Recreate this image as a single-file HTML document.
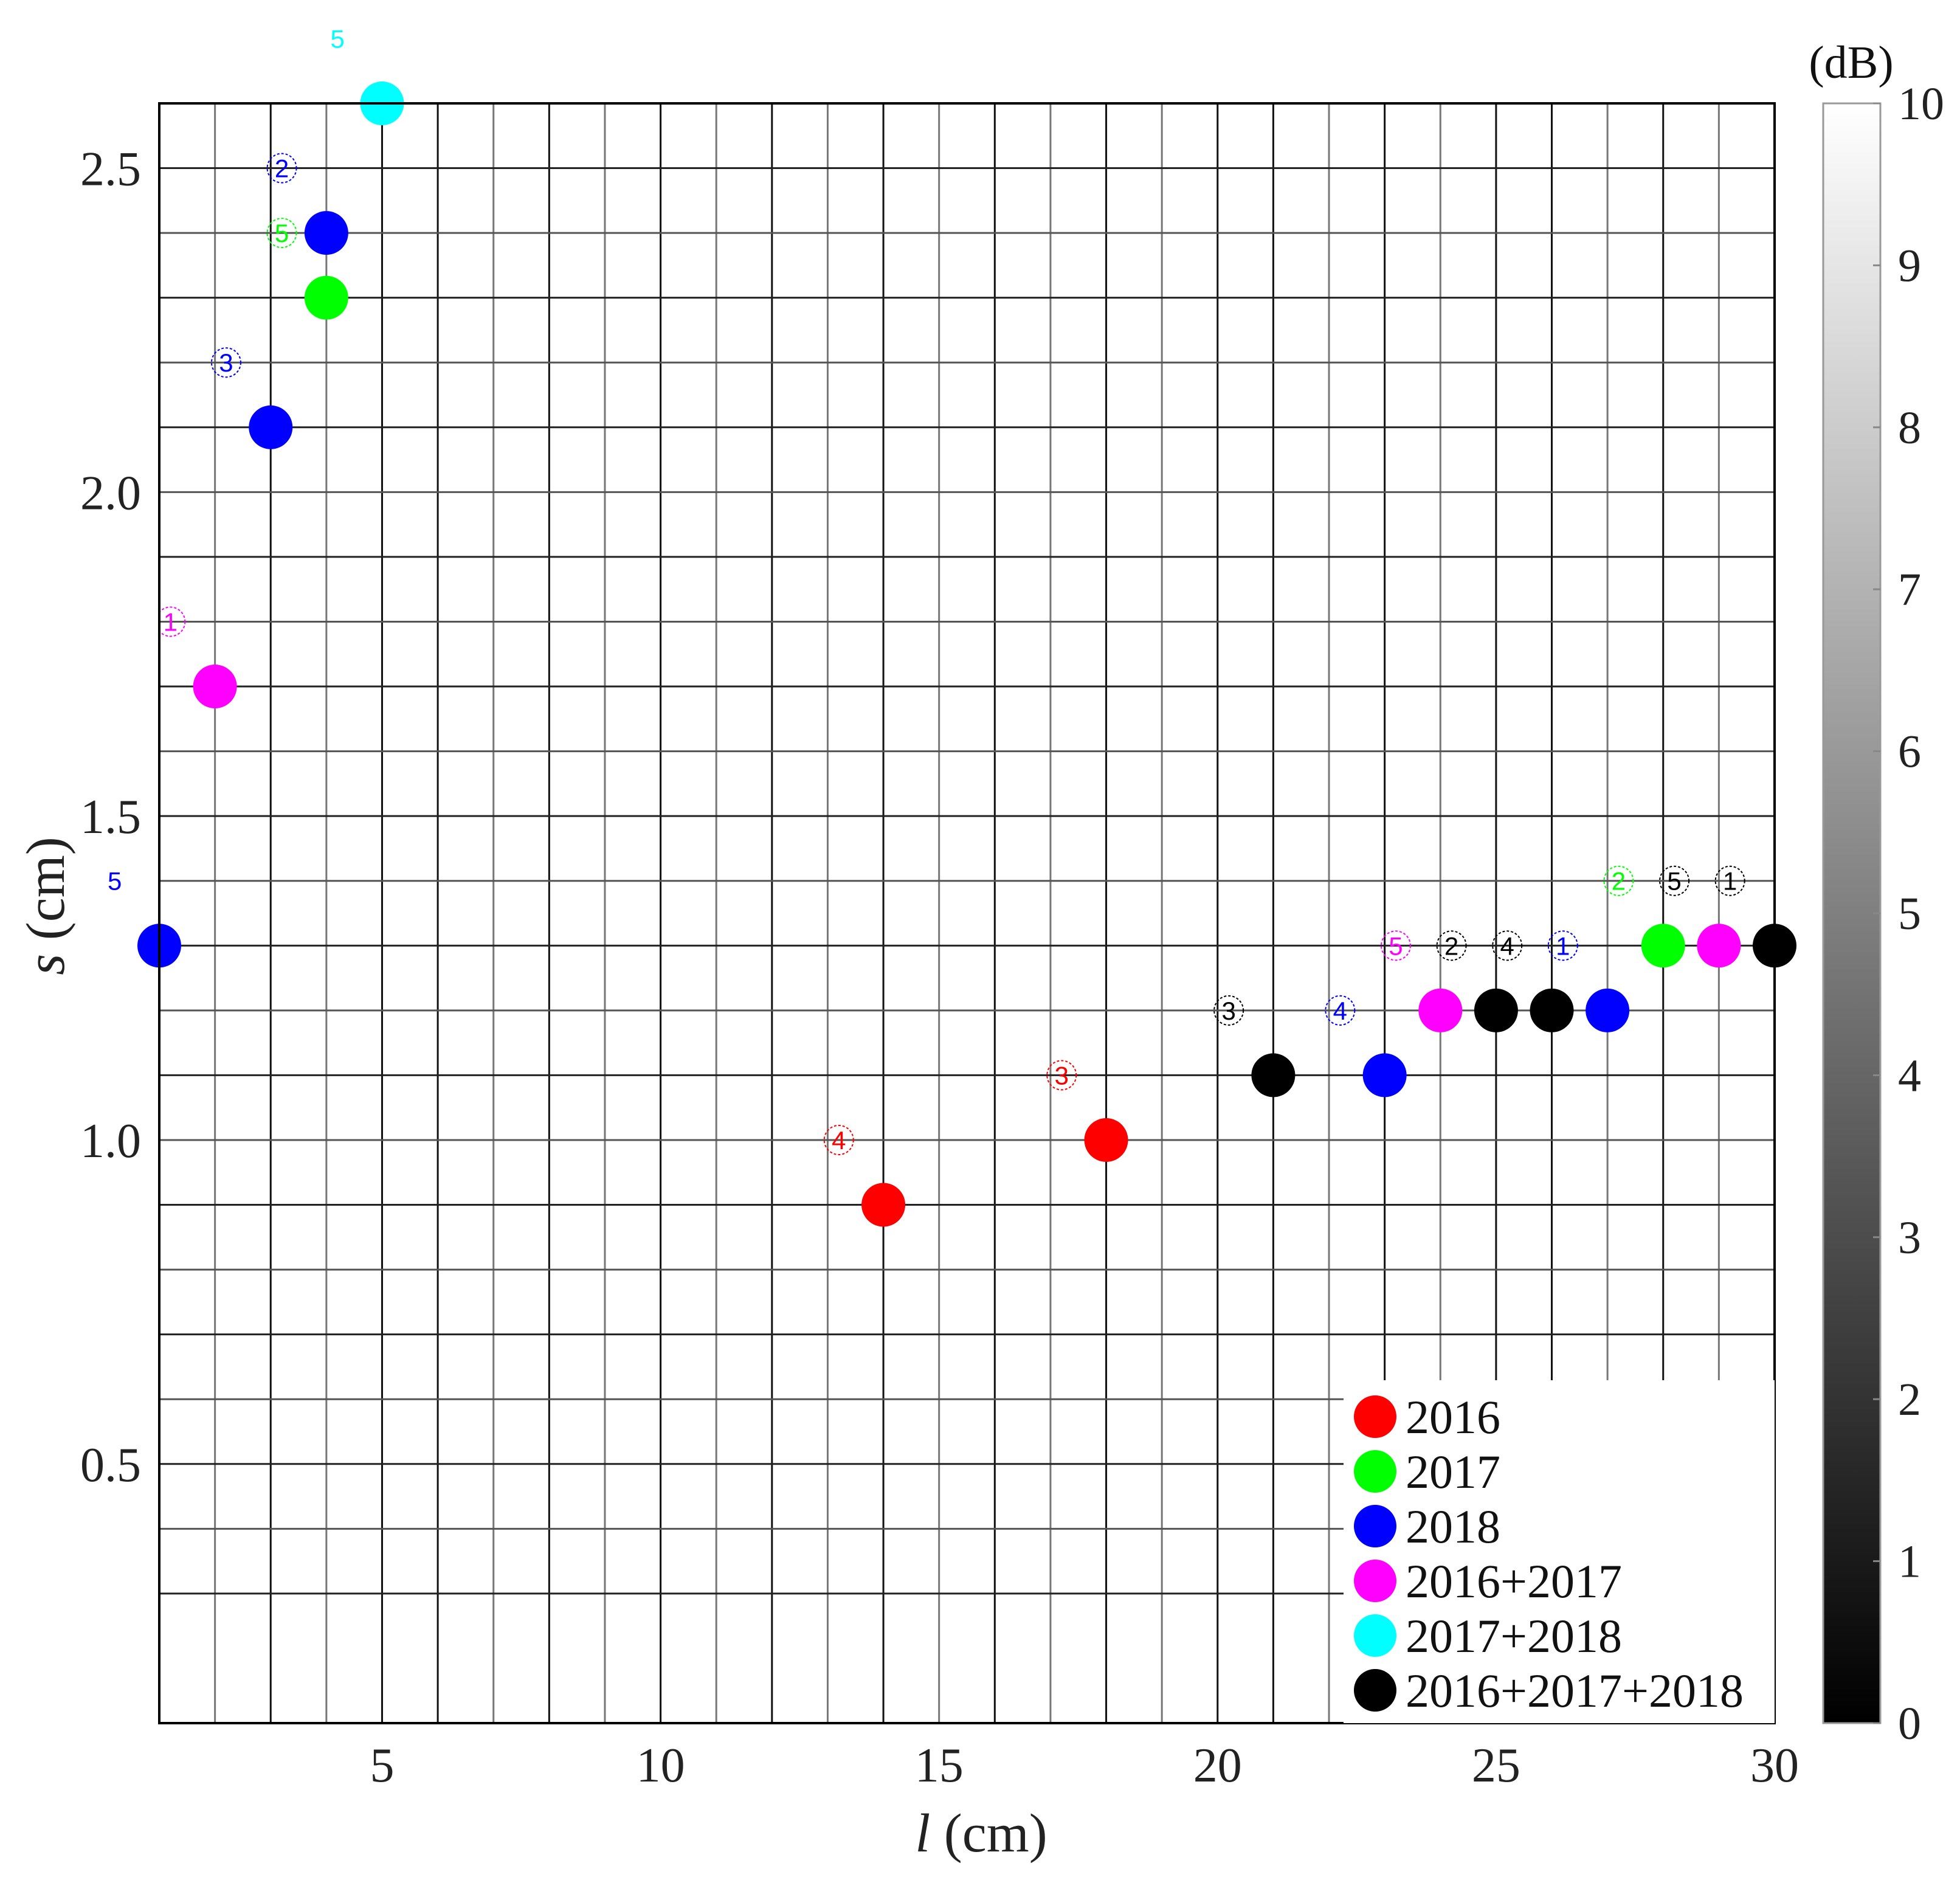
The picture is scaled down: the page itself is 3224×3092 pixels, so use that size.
<!DOCTYPE html>
<html><head><meta charset="utf-8"><style>
html,body{margin:0;padding:0;background:#fff}
svg{display:block}
text{font-family:"Liberation Serif",serif}
</style></head><body>
<svg id="chart" width="3224" height="3092" viewBox="0 0 3224 3092" xmlns="http://www.w3.org/2000/svg">
<defs>
<clipPath id="plotclip"><rect x="262" y="170" width="2657" height="2664"/></clipPath>
<linearGradient id="cbgrad" x1="0" y1="1" x2="0" y2="0"><stop offset="0" stop-color="#000"/><stop offset="1" stop-color="#fff"/></linearGradient>
</defs>
<g id="grid"></g>
<g id="labels"></g>
<g id="points"></g>
<g id="axes"></g>
<g id="legend"></g>
<g id="colorbar"></g>
</svg>
<script>
const seriesNames = ["2016","2017","2018","2016+2017","2017+2018","2016+2017+2018"];
const seriesColors = ["#ff0000","#00ff00","#0000ff","#ff00ff","#00ffff","#000000"];
const pointL = [14,18, 4,28, 1,3,4,23,27, 2,24,29, 5, 21,25,26,30];
const pointS = [0.9,1.0, 2.3,1.3, 1.3,2.1,2.4,1.1,1.2, 1.7,1.2,1.3, 2.6, 1.1,1.2,1.2,1.3];
const pointSeries = [0,0, 1,1, 2,2,2,2,2, 3,3,3, 4, 5,5,5,5];
const labelText = ["4","3","3","4","5","2","4","1","2","5","1","5","1","3","5","2","5"];
const labelL = [13.2,17.2,20.2,22.2,23.2,24.2,25.2,26.2,27.2,28.2,29.2,0.2,1.2,2.2,3.2,3.2,4.2];
const labelS = [1.0,1.1,1.2,1.2,1.3,1.3,1.3,1.3,1.4,1.4,1.4,1.4,1.8,2.2,2.4,2.5,2.7];
const labelSeries = [0,0,5,2,3,5,5,2,1,5,5,2,3,2,1,2,4];
const xTicks = [5,10,15,20,25,30];
const yTicks = [0.5,1.0,1.5,2.0,2.5];
const cbTicks = [0,1,2,3,4,5,6,7,8,9,10];

const NS="http://www.w3.org/2000/svg";
const X0=262,X1=2919,Y0=170,Y1=2834;
const xs=v=>X0+(v-1)*(X1-X0)/29;
const ys=v=>Y1-(v-0.1)*(Y1-Y0)/2.5;
function mk(tag,attrs,parent){const e=document.createElementNS(NS,tag);for(const k in attrs)e.setAttribute(k,attrs[k]);parent.appendChild(e);return e;}

const grid=document.getElementById('grid');
const grayX=[2,4,7,9,11,13,15,17,19,22,24,27,29];
for(let l=2;l<=29;l++){
  const ln=mk('line',{x1:xs(l),x2:xs(l),y1:Y0,y2:Y1,stroke:grayX.includes(l)?'#777':'#111','stroke-width':3},grid);
  
  
}
for(let i=2;i<=25;i++){
  const v=0.1+i*0.1;
  const ln=mk('line',{x1:X0,x2:X1,y1:ys(v),y2:ys(v),stroke:(i%2?'#555':'#222'),'stroke-width':3},grid);
  
  
}

const lab=document.getElementById('labels');
const lc=mk('g',{'clip-path':'url(#plotclip)'},lab);
for(let i=0;i<labelText.length;i++){
  const col=seriesColors[labelSeries[i]];
  const c=mk('circle',{cx:xs(labelL[i]),cy:ys(labelS[i]),r:24,fill:'none',stroke:col,'stroke-width':2,'stroke-dasharray':'4 3'},lc);
  
  
  const t=mk('text',{x:xs(labelL[i]),y:ys(labelS[i])+15,'text-anchor':'middle','font-size':42,fill:col,style:'font-family:"Liberation Sans",sans-serif'},lab);
  t.textContent=labelText[i];
  
  
}

const pts=document.getElementById('points');
for(let i=0;i<pointL.length;i++){
  const c=mk('circle',{cx:xs(pointL[i]),cy:ys(pointS[i]),r:36,fill:seriesColors[pointSeries[i]]},pts);
  
  
}

// legend
const lg=document.getElementById('legend');
const lb=mk('rect',{x:2210,y:2270,width:709,height:564,fill:'#fff'},lg);


for(let i=0;i<seriesNames.length;i++){
  const y=2330+i*90;
  const c=mk('circle',{cx:2262,cy:y,r:35,fill:seriesColors[i]},lg);
  
  
  const t=mk('text',{x:2312,y:y+27,'font-size':78,fill:'#111'},lg);
  t.textContent=seriesNames[i];
  
  
}

// axes
const ax=document.getElementById('axes');
const fr=mk('rect',{x:X0,y:Y0,width:X1-X0,height:Y1-Y0,fill:'none',stroke:'#000','stroke-width':4},ax);


xTicks.forEach(v=>{
  const t=mk('text',{x:xs(v),y:2930,'text-anchor':'middle','font-size':80,fill:'#222'},ax);
  t.textContent=v;
  
  
});
yTicks.forEach(v=>{
  const t=mk('text',{x:232,y:ys(v)+28,'text-anchor':'end','font-size':80,fill:'#222'},ax);
  t.textContent=v.toFixed(1);
  
  
});
const xt=mk('text',{x:1614,y:3045,'text-anchor':'middle','font-size':90,fill:'#222'},ax);
xt.innerHTML='<tspan font-style="italic">l</tspan> (cm)';


const yt=mk('text',{x:0,y:0,'text-anchor':'middle','font-size':90,fill:'#222',transform:'translate(105,1490) rotate(-90)'},ax);
yt.innerHTML='<tspan font-style="italic">s</tspan> (cm)';



// colorbar
const cb=document.getElementById('colorbar');
const CB0=2999,CB1=3093;
const cr=mk('rect',{x:CB0,y:Y0,width:CB1-CB0,height:Y1-Y0,fill:'url(#cbgrad)',stroke:'#999','stroke-width':3},cb);


cbTicks.forEach(v=>{
  const y=Y1-v*(Y1-Y0)/10;
  const tk=mk('line',{x1:CB1-12,x2:CB1,y1:y,y2:y,stroke:'#888','stroke-width':3},cb);
  
  
  const t=mk('text',{x:3122,y:y+26,'font-size':76,fill:'#222'},cb);
  t.textContent=v;
  
  
});
const cu=mk('text',{x:3045,y:128,'text-anchor':'middle','font-size':76,fill:'#111'},cb);
cu.textContent='(dB)';


</script>
</body></html>
